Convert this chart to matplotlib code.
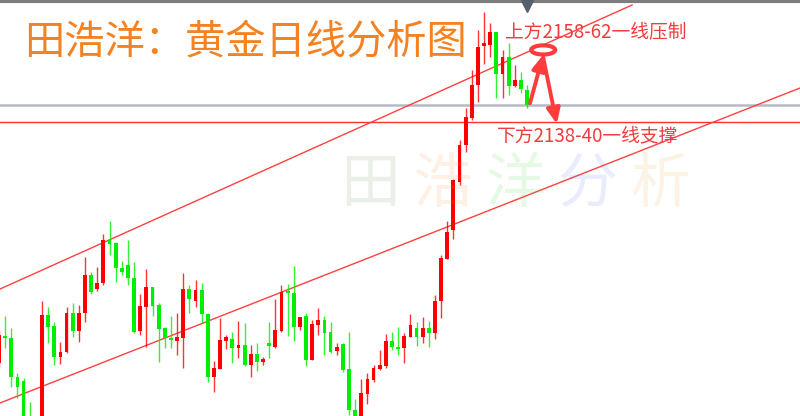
import matplotlib
matplotlib.use("Agg")
import matplotlib.pyplot as plt
from matplotlib.patches import Ellipse
import numpy as np

plt.rcParams['font.family'] = ['Noto Sans CJK SC', 'DejaVu Sans']

# daily gold candles (price)
opens = [2018.5, 2032, 2031, 2011.5, 2009.5, 1990, 1977.5, 1980, 2042.5, 2037,
         2021.5, 2024, 2043.5, 2034.5, 2043.5, 2062.5, 2055.5, 2058.5, 2080, 2078.5,
         2066, 2067.5, 2061, 2034.5, 2046.5, 2056.5, 2047.5, 2036, 2031, 2029.5,
         2031, 2055.5, 2049.5, 2055, 2043, 2011.5, 2015.5, 2029.5, 2030.5, 2026,
         2027.5, 2017.5, 2023, 2019, 2028.5, 2026.5, 2034.5, 2054, 2053.5, 2036.5,
         2042, 2020, 2037.5, 2040, 2034, 2024.5, 2028, 2015.5, 1995, 1987.5,
         2003, 2010, 2015.5, 2017, 2029.5, 2026.5, 2026, 2031.5, 2036, 2031.5,
         2036, 2033.5, 2049.5, 2070.5, 2085, 2109, 2127.5, 2141, 2157.5, 2177,
         2177.5, 2184, 2163, 2171.5, 2157, 2160, 2155]
highs = [2035, 2042, 2036, 2013.5, 2011, 1999, 1982.5, 2049.5, 2046.5, 2039,
         2029, 2046.5, 2048.5, 2047.5, 2071.5, 2064, 2066.5, 2083, 2089.5, 2079,
         2069.5, 2080, 2069, 2053, 2065.5, 2056.5, 2048.5, 2036.5, 2042, 2043.5,
         2063.5, 2057.5, 2060, 2058.5, 2043.5, 2019.5, 2041, 2032.5, 2034, 2039.5,
         2038.5, 2027.5, 2028.5, 2021.5, 2039, 2050.5, 2057.5, 2058, 2067, 2041.5,
         2043.5, 2040, 2046, 2042, 2039, 2028.5, 2028.5, 2034, 2000.5, 2010.5,
         2013.5, 2017.5, 2025, 2033, 2034, 2036.5, 2033.5, 2043, 2039, 2041.5,
         2039.5, 2052.5, 2072.5, 2089.5, 2110.5, 2130, 2146, 2165, 2185, 2194,
         2188.5, 2184, 2175, 2178.5, 2167.5, 2164, 2157.5]
lows = [2016, 2026, 2006.5, 2001, 1985, 1975, 1967.5, 1977.5, 2028.5, 2017.5,
        2018, 2023.5, 2031.5, 2029, 2039, 2053, 2054.5, 2057.5, 2072.5, 2059,
        2062.5, 2057.5, 2033.5, 2032.5, 2026.5, 2042, 2019, 2026, 2026, 2022.5,
        2016, 2043.5, 2046.5, 2038.5, 2009, 2004, 2015.5, 2025.5, 2018.5, 2021,
        2017, 2011.5, 2014.5, 2017.5, 2021, 2026, 2034, 2032, 2029.5, 2035,
        2017, 2020, 2032.5, 2022.5, 2023.5, 2022.5, 2014, 1992.5, 1985, 1985,
        1998, 2009, 2015, 2016, 2025, 2022.5, 2018.5, 2031.5, 2027, 2028.5,
        2026.5, 2030.5, 2041, 2070.5, 2080.5, 2107.5, 2124, 2140, 2149, 2168,
        2171.5, 2151, 2151, 2152.5, 2156.5, 2153.5, 2146]
closes = [2032.5, 2031, 2011.5, 2006.5, 1987.5, 1977.5, 1972.5, 2042.5, 2036.5, 2021.5,
          2024, 2043.5, 2034.5, 2043.5, 2062.5, 2054, 2058.5, 2080, 2078, 2066,
          2064, 2061, 2034, 2047, 2056.5, 2047, 2035.5, 2031, 2030, 2031.5,
          2055.5, 2050.5, 2055, 2043, 2011.5, 2016, 2030, 2031.5, 2026, 2027.5,
          2017.5, 2023, 2019, 2020.5, 2027, 2035, 2054, 2053.5, 2036.5, 2041.5,
          2020, 2038, 2040, 2033.5, 2024, 2026.5, 2015, 1995, 1987.5, 2003.5,
          2010.5, 2016, 2017.5, 2029.5, 2026.5, 2025.5, 2032, 2037.5, 2031.5, 2036,
          2033.5, 2049.5, 2071, 2084, 2110, 2127.5, 2141.5, 2157.5, 2176.5, 2178.5,
          2184, 2163, 2171.5, 2157, 2160, 2155.5, 2147.5]

support_level = 2139
upper_line = ([0.16, 103.1], [2055.5, 2197.5])
lower_line = ([0.16, 130.45], [1998.5, 2156])

title = "田浩洋：黄金日线分析图"
text_up = "上方2158-62一线压制"
text_down = "下方2138-40一线支撑"
watermark = ["田", "浩", "洋", "分", "析"]
wm_colors = ["#5a8a40", "#ff8a30", "#30d030", "#4a64f0", "#f0a030"]

o = np.array(opens)
h = np.array(highs)
l = np.array(lows)
c = np.array(closes)
x = np.arange(len(o))
up = c >= o
cols = np.where(up, "#ff0000", "#00ee00")

fig = plt.figure(figsize=(8, 4.16), dpi=100)
ax = fig.add_axes([0, 0, 1, 1])
ax.set_xlim(0.16, 130.45)
ax.set_ylim(1992, 2200)
ax.axis("off")

# wicks + bodies
ax.vlines(x, l, h, colors=cols, lw=1, alpha=0.8, zorder=3)
body_h = np.maximum(np.abs(c - o), 0.8)
ax.bar(x, body_h, bottom=np.minimum(o, c), width=0.62, color=cols, zorder=4)

# channel lines and levels
ax.plot(upper_line[0], upper_line[1], color="#ff4040", lw=1, zorder=2)
ax.plot(lower_line[0], lower_line[1], color="#ff4040", lw=1, zorder=2)
ax.axhline(closes[-1], color="#b6bac6", lw=1.8, zorder=1)
ax.axhline(support_level, color="#ff3030", lw=1, zorder=1)

# top border and marker
ax.plot([0, 1], [0.997, 0.997], transform=ax.transAxes, color="#7d7d7d", lw=3)
ax.plot([x[-1]], [0.985], marker="v", ms=9, color="#56606c",
        transform=ax.get_xaxis_transform(), clip_on=False)

# watermark
for i, (ch, col) in enumerate(zip(watermark, wm_colors)):
    ax.text(0.4625 + i * 0.0906, 0.553, ch, transform=ax.transAxes, fontsize=43,
            color=col, alpha=0.12, ha="center", va="center", zorder=6)

ax.text(0.03, 0.899, title, transform=ax.transAxes, fontsize=29,
        color="#f58220", ha="left", va="center")
ax.text(0.631, 0.921, text_up, transform=ax.transAxes, fontsize=13.5,
        color="#f03c3c", ha="left", va="center")
ax.text(0.621, 0.673, text_down, transform=ax.transAxes, fontsize=13.5,
        color="#f03c3c", ha="left", va="center")

# arrows and ellipse
arrow = dict(arrowstyle="-|>,head_length=0.9,head_width=0.4", lw=2.8,
             color="#ff3c3c", shrinkA=0, shrinkB=0)
ax.annotate("", xy=(0.679, 0.868), xytext=(0.6625, 0.752),
            xycoords="axes fraction", arrowprops=arrow, zorder=7)
ax.annotate("", xy=(0.696, 0.702), xytext=(0.679, 0.862),
            xycoords="axes fraction", arrowprops=arrow, zorder=7)
ax.add_patch(Ellipse((0.679, 0.880), 0.03, 0.022, transform=ax.transAxes,
                     facecolor="white", edgecolor="#ff3c3c", lw=3, zorder=8))

fig.savefig("out.png", dpi=100)
